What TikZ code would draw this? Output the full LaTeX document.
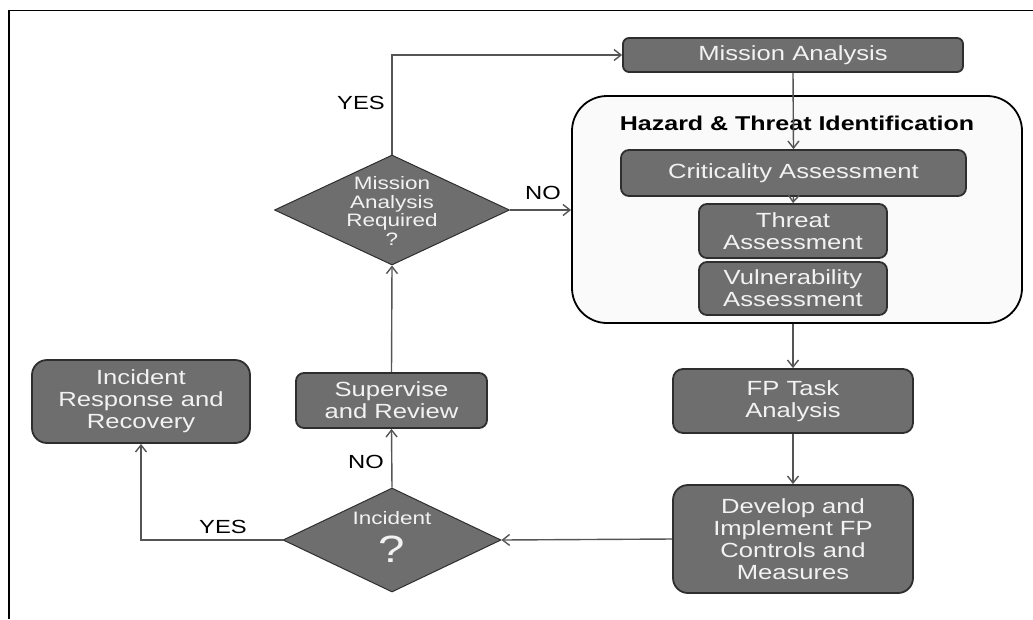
\documentclass[tikz,border=0pt]{standalone}
\usepackage{fontspec}
\setmainfont{Liberation Sans}[FakeStretch=1.25]
\usetikzlibrary{shapes.geometric,arrows.meta}

\definecolor{boxfill}{HTML}{6E6E6E}
\definecolor{boxline}{HTML}{2E2E2E}
\definecolor{boxtext}{HTML}{F2F2F2}
\definecolor{wire}{HTML}{555555}
\definecolor{panel}{HTML}{FAFAFA}

\tikzset{
  stepbox/.style={draw=boxline, line width=1.8pt, fill=boxfill, text=boxtext,
    rounded corners=#1, inner sep=0pt, align=center,
    font=\fontsize{20.5}{22}\selectfont},
  stepbox/.default=8pt,
  decision/.style={diamond, draw=boxline, line width=1pt, fill=boxfill,
    inner sep=0pt},
  dtext/.style={text=boxtext, align=center, inner sep=0pt},
  conn/.style={draw=wire, line width=1.4pt,
    -{Straight Barb[length=7pt,width=11pt]}},
  lbl/.style={text=black, inner sep=0pt, font=\fontsize{19}{19}\selectfont},
}

\begin{document}
\begin{tikzpicture}[x=1pt,y=-1pt]
\useasboundingbox (0,0) rectangle (1033,619);

% outer frame (top and left edges)
\draw[line width=1.8pt, black] (1033,10.5) -- (9,10.5) -- (9,619);

% hazard and threat identification panel
\node[draw=black, line width=1.8pt, fill=panel, rounded corners=35pt,
      minimum width=450pt, minimum height=227pt, inner sep=0pt]
      (hz) at (797,209.5) {};
\node[inner sep=0pt, font=\bfseries\fontsize{20}{20}\selectfont]
      (hztitle) at (797,123) {Hazard \& Threat Identification};

% process steps
\node[stepbox=6pt, minimum width=340pt, minimum height=34pt]
      (ma) at (793,55) {Mission Analysis};
\node[stepbox, minimum width=345pt, minimum height=46pt]
      (crit) at (793.5,173) {Criticality Assessment};
\node[stepbox, minimum width=188pt, minimum height=54pt]
      (thr) at (793,231) {Threat\\Assessment};
\node[stepbox, minimum width=188pt, minimum height=53pt]
      (vul) at (793,288.5) {Vulnerability\\Assessment};
\node[stepbox=10pt, minimum width=240pt, minimum height=64pt]
      (fp) at (793,401) {FP Task\\Analysis};
\node[stepbox=15pt, minimum width=240pt, minimum height=108pt]
      (dev) at (793,539) {Develop and\\Implement FP\\Controls and\\Measures};
\node[stepbox=15pt, minimum width=218pt, minimum height=83pt]
      (irr) at (141,401.5) {Incident\\Response and\\Recovery};
\node[stepbox, minimum width=191pt, minimum height=55pt]
      (sup) at (391.5,400.5) {Supervise\\and Review};

% decisions
\node[decision, minimum width=235pt, minimum height=110pt] (d1) at (392,210) {};
\node[dtext, font=\fontsize{18}{18.7}\selectfont]
      (d1t) at (392,211) {Mission\\Analysis\\Required\\?};
\node[decision, minimum width=218pt, minimum height=104pt] (d2) at (392,540) {};
\node[dtext, font=\fontsize{18}{18}\selectfont] (d2t) at (392,518) {Incident};
\node[dtext, font=\fontsize{38}{38}\selectfont] (d2q) at (392,549) {?};

% connectors
\draw[conn] (d1.north) |- (ma.west);
\draw[conn] (ma.south) -- (crit.north);
\draw[conn] (crit.south) -- (thr.north);
\draw[conn] (d1.east) -- (hz.west |- d1.east);
\draw[conn] (fp.north |- hz.south) -- (fp.north);
\draw[conn] (fp.south) -- (dev.north);
\draw[conn] (dev.west) -- (d2.east);
\draw[conn] (d2.north) -- (sup.south);
\draw[conn] (sup.north) -- (d1.south);
\draw[conn] (d2.west) -| (irr.south);

% branch labels
\node[lbl] (yes1) at (361,103) {YES};
\node[lbl] (no1) at (543,193) {NO};
\node[lbl] (no2) at (366,462) {NO};
\node[lbl] (yes2) at (223,527) {YES};
\end{tikzpicture}
\end{document}
